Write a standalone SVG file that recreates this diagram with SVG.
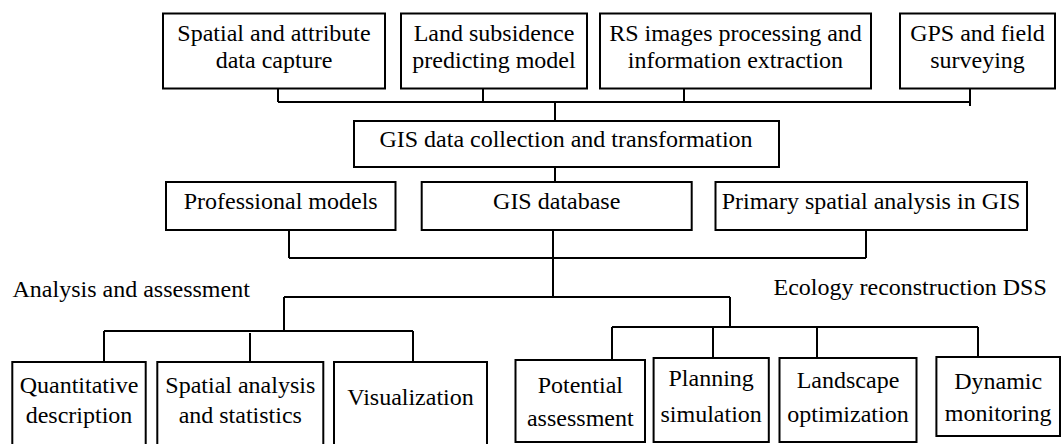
<svg xmlns="http://www.w3.org/2000/svg" width="1064" height="444" viewBox="0 0 1064 444">
<style>
.box{fill:#fff;stroke:#000;stroke-width:2}
text{font-family:'Liberation Serif','Times New Roman',Times,serif;font-size:24px;fill:#000}
.t{text-anchor:middle}
.c{fill:none;stroke:#000;stroke-width:2}
</style>
<rect width="1064" height="444" fill="#fff"/>
<g id="connectors" class="c">
<path d="M278 89V102M483 89V102M684 89V102M970 89V106M278 102H970M555 102V121"/>
<path d="M555 167V182"/>
<path d="M289 230V258M866 230V258M289 258H866M553 230V297"/>
<path d="M284 297H730M284 297V331M104 331H413M104 331V362M250 333V362M413 331V362"/>
<path d="M730 297V328M612 327H978M612 327V360M713 327V358M817 327V358M978 327V357"/>
</g>
<g id="n1"><rect class="box" x="163" y="13.5" width="222" height="75"/><text class="t" x="274" y="40.5">Spatial and attribute</text><text class="t" x="274" y="68">data capture</text></g>
<g id="n2"><rect class="box" x="401" y="13.5" width="186" height="75"/><text class="t" x="494" y="40.5">Land subsidence</text><text class="t" x="494" y="68">predicting model</text></g>
<g id="n3"><rect class="box" x="600" y="13.5" width="271" height="75"/><text class="t" x="735.5" y="40.5">RS images processing and</text><text class="t" x="735.5" y="68">information extraction</text></g>
<g id="n4"><rect class="box" x="900" y="13.5" width="155" height="75"/><text class="t" x="977.5" y="40.5">GPS and field</text><text class="t" x="977.5" y="68">surveying</text></g>
<g id="n5"><rect class="box" x="354" y="121" width="425" height="46"/><text class="t" x="566" y="146.7">GIS data collection and transformation</text></g>
<g id="n6"><rect class="box" x="166" y="182" width="229.5" height="48"/><text class="t" x="280.7" y="209">Professional models</text></g>
<g id="n7"><rect class="box" x="421.7" y="182" width="270" height="48"/><text class="t" x="556.7" y="209">GIS database</text></g>
<g id="n8"><rect class="box" x="715.5" y="182" width="311.5" height="48"/><text class="t" x="871" y="209">Primary spatial analysis in GIS</text></g>
<g id="n9"><text x="12.5" y="296.5">Analysis and assessment</text></g>
<g id="n10"><text x="773.5" y="295">Ecology reconstruction DSS</text></g>
<g id="n11"><rect class="box" x="12.3" y="362" width="133.4" height="100"/><text class="t" x="79" y="393.3">Quantitative</text><text class="t" x="79" y="422.7">description</text></g>
<g id="n12"><rect class="box" x="157.3" y="362" width="166" height="100"/><text class="t" x="240.3" y="393.3">Spatial analysis</text><text class="t" x="240.3" y="422.7">and statistics</text></g>
<g id="n13"><rect class="box" x="334" y="362" width="153" height="100"/><text class="t" x="410.5" y="405">Visualization</text></g>
<g id="n14"><rect class="box" x="515.5" y="360" width="129.5" height="82"/><text class="t" x="580.3" y="392.8">Potential</text><text class="t" x="580.3" y="425.7">assessment</text></g>
<g id="n15"><rect class="box" x="653.6" y="358" width="115.2" height="84"/><text class="t" x="711.2" y="386">Planning</text><text class="t" x="711.2" y="422">simulation</text></g>
<g id="n16"><rect class="box" x="779.5" y="358" width="137" height="84"/><text class="t" x="848" y="387.6">Landscape</text><text class="t" x="848" y="422">optimization</text></g>
<g id="n17"><rect class="box" x="936.4" y="357" width="123.6" height="79"/><text class="t" x="998.2" y="389.3">Dynamic</text><text class="t" x="998.2" y="420.5">monitoring</text></g>
</svg>
